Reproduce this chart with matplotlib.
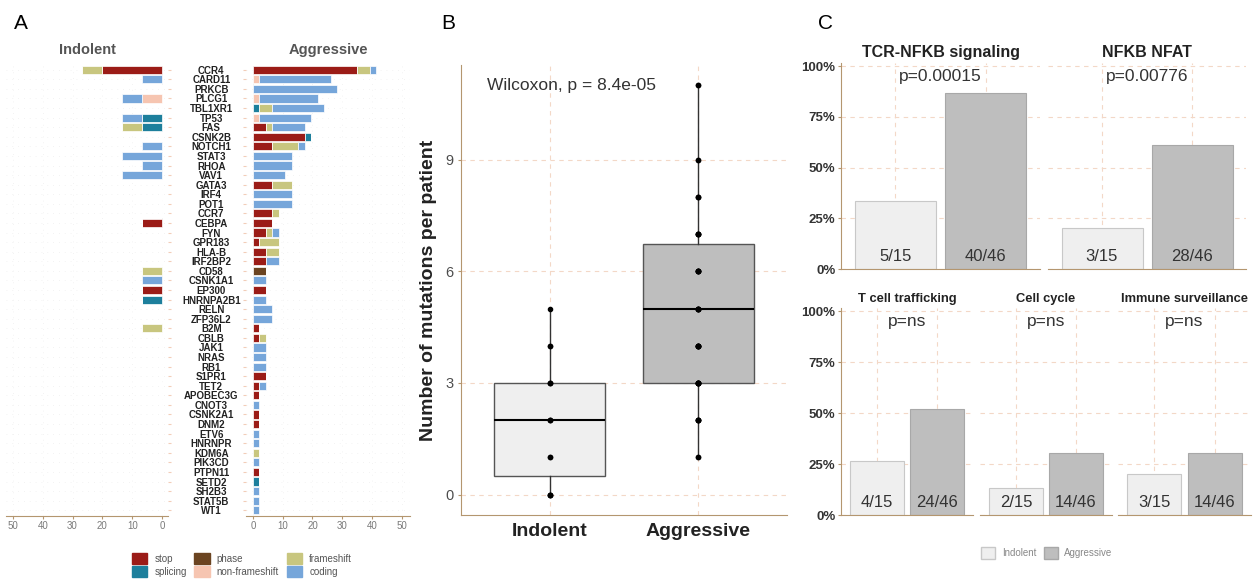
import matplotlib.pyplot as plt
import matplotlib.patches as mpatches
import numpy as np

plt.rcParams['font.family'] = ['Liberation Sans', 'DejaVu Sans']

W, H = 1255, 581

# ---- panel A: patients carrying a mutation, per gene and mutation type ----
genes = ['CCR4', 'CARD11', 'PRKCB', 'PLCG1', 'TBL1XR1', 'TP53', 'FAS', 'CSNK2B', 'NOTCH1', 'STAT3',
         'RHOA', 'VAV1', 'GATA3', 'IRF4', 'POT1', 'CCR7', 'CEBPA', 'FYN', 'GPR183', 'HLA-B',
         'IRF2BP2', 'CD58', 'CSNK1A1', 'EP300', 'HNRNPA2B1', 'RELN', 'ZFP36L2', 'B2M', 'CBLB', 'JAK1',
         'NRAS', 'RB1', 'S1PR1', 'TET2', 'APOBEC3G', 'CNOT3', 'CSNK2A1', 'DNM2', 'ETV6', 'HNRNPR',
         'KDM6A', 'PIK3CD', 'PTPN11', 'SETD2', 'SH2B3', 'STAT5B', 'WT1']
n_ind = 15
n_agg = 46

agg_stop = [16, 0, 0, 0, 0, 0, 2, 8, 3, 0,
            0, 0, 3, 0, 0, 3, 3, 2, 1, 2,
            2, 0, 0, 2, 0, 0, 0, 1, 1, 0,
            0, 0, 2, 1, 1, 0, 1, 1, 0, 0,
            0, 0, 1, 0, 0, 0, 0]
agg_phase = [0] * 21 + [2] + [0] * 25
agg_splicing = [0, 0, 0, 0, 1, 0, 0, 1, 0, 0] + [0] * 33 + [1, 0, 0, 0]
agg_nonfs = [0, 1, 0, 1, 0, 1] + [0] * 41
agg_fs = [2, 0, 0, 0, 2, 0, 1, 0, 4, 0,
          0, 0, 3, 0, 0, 1, 0, 1, 3, 2,
          0, 0, 0, 0, 0, 0, 0, 0, 1, 0,
          0, 0, 0, 0, 0, 0, 0, 0, 0, 0,
          1, 0, 0, 0, 0, 0, 0]
agg_coding = [1, 11, 13, 9, 8, 8, 5, 0, 1, 6,
              6, 5, 0, 6, 6, 0, 0, 1, 0, 0,
              2, 0, 2, 0, 2, 3, 3, 0, 0, 2,
              2, 2, 0, 1, 0, 1, 0, 0, 1, 1,
              0, 1, 0, 0, 1, 1, 1]

ind_stop = [3] + [0] * 15 + [1] + [0] * 6 + [1] + [0] * 23
ind_phase = [0] * 47
ind_splicing = [0, 0, 0, 0, 0, 1, 1] + [0] * 17 + [1] + [0] * 22
ind_nonfs = [0, 0, 0, 1] + [0] * 43
ind_fs = [1, 0, 0, 0, 0, 0, 1] + [0] * 14 + [1, 0, 0, 0, 0, 0, 1] + [0] * 19
ind_coding = [0, 1, 0, 1, 0, 1, 0, 0, 1, 2, 1, 2] + [0] * 10 + [1] + [0] * 24

type_names = ['stop', 'phase', 'splicing', 'non-frameshift', 'frameshift', 'coding']
type_colors = {'stop': '#9b1c17', 'splicing': '#1d7f9c', 'phase': '#6b4421',
               'non-frameshift': '#f6c5b1', 'frameshift': '#c8c67f', 'coding': '#76a6da'}

# ---- panel B: mutations per patient ----
groups = ['Indolent', 'Aggressive']
ind_mut = [0, 0, 0, 0, 1, 1, 2, 2, 2, 3, 3, 3, 4, 4, 5]
agg_mut = [1, 1, 2, 2, 2, 2, 2, 3, 3, 3, 3, 3, 3, 3, 3, 4, 4, 4, 4, 4, 4, 4,
           5, 5, 5, 5, 5, 5, 6, 6, 6, 6, 6, 6, 7, 7, 7, 7, 7, 8, 8, 8, 9, 9, 11, 11]

# ---- panel C: patients with a hit in each pathway ----
pathways = ['TCR-NFKB signaling', 'NFKB NFAT', 'T cell trafficking', 'Cell cycle', 'Immune surveillance']
pvals = ['p=0.00015', 'p=0.00776', 'p=ns', 'p=ns', 'p=ns']
ind_hits = [5, 3, 4, 2, 3]
agg_hits = [40, 28, 24, 14, 14]

tan = '#b4966f'
grid_col = '#f3d8c7'

fig = plt.figure(figsize=(W / 100, H / 100), dpi=100)


def px_axes(x0, y0, x1, y1):
    return fig.add_axes([x0 / W, 1 - y1 / H, (x1 - x0) / W, (y1 - y0) / H])


# ================= A =================
ypos = np.arange(len(genes))
axL = px_axes(6, 64, 168, 516)
axR = px_axes(246, 64, 410, 516)
ind_series = [ind_stop, ind_phase, ind_splicing, ind_nonfs, ind_fs, ind_coding]
agg_series = [agg_stop, agg_phase, agg_splicing, agg_nonfs, agg_fs, agg_coding]
for ax, series, n in [(axL, ind_series, n_ind), (axR, agg_series, n_agg)]:
    left = np.zeros(len(genes))
    for name, vals in zip(type_names, series):
        pct = np.array(vals) / n * 100
        ax.barh(ypos, pct, left=left, height=0.85, color=type_colors[name],
                edgecolor='white', linewidth=0.5)
        left += pct
    ax.set_ylim(len(genes) - 0.4, -0.6)
    ax.set_xticks([0, 10, 20, 30, 40, 50])
    ax.grid(True, color='#efefef', linestyle=(0, (1, 6)), linewidth=0.6)
    ax.set_axisbelow(True)
    for s in ['top', 'left', 'right']:
        ax.spines[s].set_visible(False)
    ax.spines['bottom'].set_color(tan)
    ax.tick_params(axis='x', length=2, color=tan, labelsize=7, labelcolor='#7a7a7a', pad=1.5)
    ax.set_yticks(ypos)

axL.set_xlim(52.3, -2.0)
axR.set_xlim(-2.3, 52.7)
axL.yaxis.tick_right()
axL.tick_params(axis='y', length=2, color='#f2cdb8', labelright=False)
axR.set_yticklabels(genes, fontsize=7, fontweight='bold', ha='center', color='#222222')
axR.tick_params(axis='y', length=2, color='#f2cdb8', pad=23)
axL.set_title('Indolent', fontsize=10.5, fontweight='bold', color='#555555', pad=7)
axR.set_title('Aggressive', fontsize=10.5, fontweight='bold', color='#555555', pad=7)

handles = [mpatches.Patch(color=type_colors[t], label=t) for t in
           ['stop', 'splicing', 'phase', 'non-frameshift', 'frameshift', 'coding']]
fig.legend(handles=handles, ncol=3, loc='center', bbox_to_anchor=(242 / W, 1 - 565 / H),
           frameon=False, fontsize=7, labelcolor='#555555', handlelength=1.6, handleheight=1.4,
           labelspacing=0.2, columnspacing=0.8, handletextpad=0.7, borderpad=0)

# ================= B =================
axB = px_axes(461, 65, 787, 515)
bp = axB.boxplot([ind_mut, agg_mut], positions=[1, 2], widths=0.75, patch_artist=True,
                 showcaps=False, showfliers=False,
                 medianprops=dict(color='black', linewidth=1.5),
                 boxprops=dict(edgecolor='#555555', linewidth=1),
                 whiskerprops=dict(color='#333333', linewidth=1))
for patch, fc in zip(bp['boxes'], ['#efefef', '#bebebe']):
    patch.set_facecolor(fc)
axB.plot([1] * len(ind_mut), ind_mut, 'o', ms=3, color='black', zorder=5)
axB.plot([2] * len(agg_mut), agg_mut, 'o', ms=3, color='black', zorder=5)
axB.set_xlim(0.4, 2.6)
axB.set_ylim(-0.55, 11.55)
axB.set_yticks([0, 3, 6, 9])
axB.set_xticks([1, 2])
axB.set_xticklabels(groups, fontsize=14, fontweight='bold', color='#222222')
axB.tick_params(axis='x', length=0, pad=6)
axB.tick_params(axis='y', length=2, color=tan, labelsize=10.5, labelcolor='#4d4d4d')
axB.grid(True, color=grid_col, linestyle=(0, (4, 4)), linewidth=0.8)
axB.set_axisbelow(True)
for s in ['top', 'right']:
    axB.spines[s].set_visible(False)
for s in ['left', 'bottom']:
    axB.spines[s].set_color(tan)
axB.set_ylabel('Number of mutations per patient', fontsize=14, fontweight='bold',
               color='#222222', labelpad=6)
axB.text(0.575, 11.0, 'Wilcoxon, p = 8.4e-05', fontsize=12.5, color='#333333',
         ha='left', va='center')

# ================= C =================
boxes = [(841, 63, 1040, 269), (1048, 63, 1246, 269),
         (841, 308, 973, 515), (980, 308, 1112, 515), (1118, 308, 1251, 515)]
for i, (x0, y0, x1, y1) in enumerate(boxes):
    ax = px_axes(x0, y0, x1, y1)
    vals = [ind_hits[i] / n_ind * 100, agg_hits[i] / n_agg * 100]
    ax.bar([1, 2], vals, width=0.9, color=['#efefef', '#bebebe'],
           edgecolor=['#c8c8c8', '#a8a8a8'], linewidth=0.8)
    ax.set_xlim(0.4, 2.6)
    ax.set_ylim(0, 101.5)
    ax.set_xticks([1, 2])
    ax.set_yticks([0, 25, 50, 75, 100])
    ax.grid(True, color=grid_col, linestyle=(0, (4, 4)), linewidth=0.8)
    ax.set_axisbelow(True)
    for s in ['top', 'right']:
        ax.spines[s].set_visible(False)
    ax.spines['bottom'].set_color(tan)
    ax.tick_params(axis='x', length=0, labelbottom=False)
    if i in (0, 2):
        ax.spines['left'].set_color(tan)
        ax.set_yticklabels(['0%', '25%', '50%', '75%', '100%'])
        ax.tick_params(axis='y', length=2, color=tan, labelsize=9.5, pad=2)
        for lab in ax.get_yticklabels():
            lab.set_fontweight('bold')
            lab.set_color('#333333')
    else:
        ax.spines['left'].set_visible(False)
        ax.tick_params(axis='y', length=0, labelleft=False)
    title_size = 11.5 if i < 2 else 9.3
    ax.set_title(pathways[i], fontsize=title_size, fontweight='bold', color='#222222', pad=4.5)
    ax.text(1.5, 95, pvals[i], fontsize=12.5, color='#333333', ha='center', va='center')
    ax.text(1, 6, f'{ind_hits[i]}/{n_ind}', fontsize=12, color='#333333', ha='center', va='center')
    ax.text(2, 6, f'{agg_hits[i]}/{n_agg}', fontsize=12, color='#333333', ha='center', va='center')

leg_handles = [mpatches.Patch(facecolor='#efefef', edgecolor='#c8c8c8', label='Indolent'),
               mpatches.Patch(facecolor='#bebebe', edgecolor='#a8a8a8', label='Aggressive')]
fig.legend(handles=leg_handles, ncol=2, loc='center', bbox_to_anchor=(1047 / W, 1 - 553 / H),
           frameon=False, fontsize=7, labelcolor='#888888', handlelength=1.4, handleheight=1.6,
           columnspacing=0.8, handletextpad=0.7, borderpad=0)

# panel letters
fig.text(14 / W, 1 - 29 / H, 'A', fontsize=15, va='baseline')
fig.text(441 / W, 1 - 29 / H, 'B', fontsize=15, va='baseline')
fig.text(818 / W, 1 - 29 / H, 'C', fontsize=15, va='baseline')

fig.savefig('out.png', dpi=100)
